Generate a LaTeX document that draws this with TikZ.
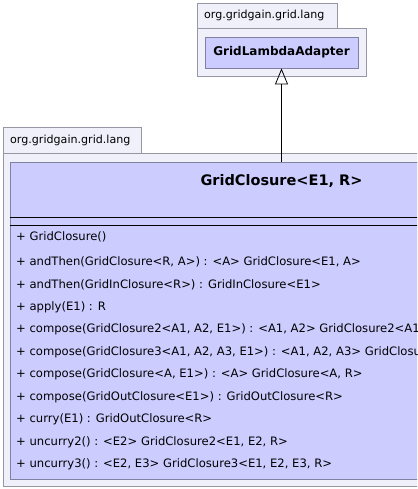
\documentclass[tikz,border=0pt]{standalone}
\usepackage{fontspec}
\setmainfont{DejaVu Sans}
\usetikzlibrary{arrows.meta}
\definecolor{pkgfill}{RGB}{240,240,250}
\definecolor{pkgdraw}{RGB}{150,150,165}
\definecolor{clsfill}{RGB}{204,204,255}
\definecolor{clsdraw}{RGB}{128,128,160}
\tikzset{
  pkgbox/.style={draw=pkgdraw, fill=pkgfill, line width=0.8pt},
  clsbox/.style={draw=clsdraw, fill=clsfill, line width=0.8pt, inner sep=0pt},
  pkglabel/.style={anchor=west, inner sep=0pt, font=\fontsize{11.1}{13}\selectfont},
  member/.style={anchor=west, inner sep=0pt, font=\fontsize{11.6}{14}\selectfont},
  title/.style={inner sep=0pt, font=\bfseries\fontsize{14.5}{16}\selectfont},
}
\begin{document}
\begin{tikzpicture}[x=1pt, y=-1pt]
\useasboundingbox (0,0) rectangle (417,489);
\clip (0,0) rectangle (417,489);
% top package
\draw[pkgbox] (197,3) rectangle (337,28);
\draw[pkgbox] (197,28) rectangle (366,76);
\node[pkglabel] (pkgA) at (204,15.5) {org.gridgain.grid.lang};
\node[clsbox, minimum width=153pt, minimum height=31pt] (adapter) at (281.5,52.5) {};
\node[title, font=\bfseries\fontsize{12}{14}\selectfont] (adaptername) at (adapter.center) {GridLambdaAdapter};
% bottom package
\draw[pkgbox] (3,127) rectangle (141,153);
\draw[pkgbox] (3,153) rectangle (600,486);
\node[pkglabel] (pkgB) at (10,140) {org.gridgain.grid.lang};
\node[clsbox, minimum width=543pt, minimum height=317pt] (closure) at (281.5,320.5) {};
\node[title] (closurename) at (281.5,181) {GridClosure<E1, R>};
\draw[black, line width=0.8pt] (closure.west |- 0,217) -- (closure.east |- 0,217);
\draw[black, line width=0.8pt] (closure.west |- 0,225) -- (closure.east |- 0,225);
% members
\node[member] (m0) at (16,237) {+ GridClosure()};
\node[member] (m1) at (16,262) {+ andThen(GridClosure<R, A>) : <A> GridClosure<E1, A>};
\node[member] (m2) at (16,284.5) {+ andThen(GridInClosure<R>) : GridInClosure<E1>};
\node[member] (m3) at (16,307) {+ apply(E1) : R};
\node[member] (m4) at (16,329.5) {+ compose(GridClosure2<A1, A2, E1>) : <A1, A2> GridClosure2<A1, A2, R>};
\node[member] (m5) at (16,352) {+ compose(GridClosure3<A1, A2, A3, E1>) : <A1, A2, A3> GridClosure3<A1, A2, A3, R>};
\node[member] (m6) at (16,374.5) {+ compose(GridClosure<A, E1>) : <A> GridClosure<A, R>};
\node[member] (m7) at (16,397) {+ compose(GridOutClosure<E1>) : GridOutClosure<R>};
\node[member] (m8) at (16,419.5) {+ curry(E1) : GridOutClosure<R>};
\node[member] (m9) at (16,442) {+ uncurry2() : <E2> GridClosure2<E1, E2, R>};
\node[member] (m10) at (16,464.5) {+ uncurry3() : <E2, E3> GridClosure3<E1, E2, E3, R>};
% inheritance
\draw[black, line width=0.8pt, -{Triangle[open, length=16pt, width=13pt, line width=0.8pt]}] (closure.north) -- (adapter.south);
\end{tikzpicture}
\end{document}
